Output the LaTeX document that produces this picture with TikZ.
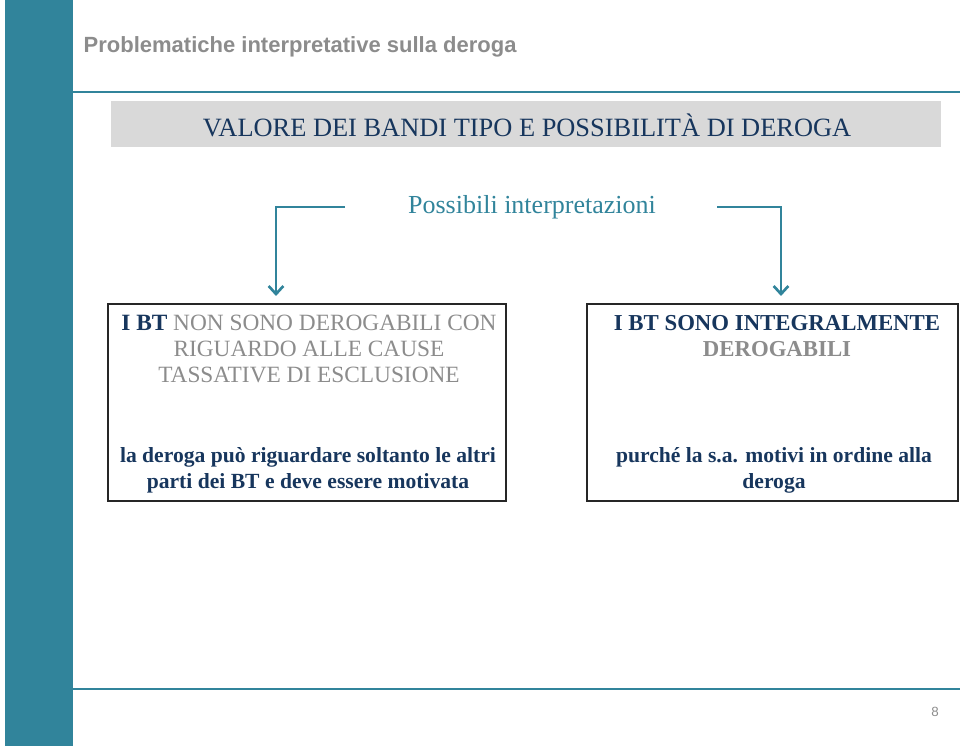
\documentclass[tikz,border=0pt]{standalone}
\usepackage{fontspec}
\setmainfont{Liberation Serif}
\newfontfamily\headfont{Liberation Sans}
\usetikzlibrary{arrows.meta}

\definecolor{tealbar}{HTML}{31849B}
\definecolor{navytext}{HTML}{17365D}
\definecolor{greytext}{HTML}{8C8C8C}
\definecolor{boxgrey}{HTML}{D9D9D9}

\tikzset{
  arrowline/.style={draw=tealbar, line width=2pt, -{Straight Barb[length=6pt,width=11pt]}},
  choicebox/.style={draw=black!85, line width=1pt, minimum width=298.5pt, minimum height=147.75pt},
  boxtext/.style={align=center, font=\fontsize{17.5}{19.5}\selectfont, inner sep=0pt},
  boldtext/.style={boxtext, text=navytext, font=\bfseries\fontsize{16.2}{19.5}\selectfont}
}

\begin{document}
\begin{tikzpicture}[x=0.75pt,y=-0.75pt]
  \useasboundingbox (0,0) rectangle (960,748);
  % side bar and rules
  \fill[tealbar] (5,0) rectangle (73,746);
  \draw[tealbar, line width=1.5pt] (73,92) -- (960,92);
  \draw[tealbar, line width=1.5pt] (73,689) -- (960,689);
  \node[anchor=west, text=greytext, font=\headfont\bfseries\fontsize{16.5}{19}\selectfont] (slidetitle) at (79,47) {Problematiche interpretative sulla deroga};
  \node[text=greytext, font=\headfont\fontsize{10}{12}\selectfont] (pagenum) at (935,712) {8};

  % banner
  \fill[boxgrey] (111,101) rectangle (941,147);
  \node[text=navytext, font=\fontsize{19.8}{22}\selectfont] (bandi) at (527,125) {VALORE DEI BANDI TIPO E POSSIBILITÀ DI DEROGA};
  \node[text=tealbar, font=\fontsize{19.5}{22}\selectfont] (interp) at (532,207) {Possibili interpretazioni};

  % the two boxes
  \node[choicebox] (leftbox) at (307,402.5) {};
  \node[choicebox, minimum width=278.25pt] (rightbox) at (772.5,402.5) {};

  % arrows
  \coordinate (lstart) at (345,207);
  \coordinate (lend) at (276,296);
  \coordinate (rstart) at (717,207);
  \coordinate (rend) at (781,296);
  \draw[arrowline] (lstart) -| (lend);
  \draw[arrowline] (rstart) -| (rend);

  % texts in the boxes
  \node[boxtext, text=greytext] (nonderog) at (309,349) {\textcolor{navytext}{\bfseries I BT} NON SONO DEROGABILI CON\\RIGUARDO ALLE CAUSE\\TASSATIVE DI ESCLUSIONE};
  \node[boldtext] (soloaltre) at (308,470) {la deroga può riguardare soltanto le altri\\parti dei BT e deve essere motivata};
  \node[boldtext, font=\bfseries\fontsize{17.1}{19.5}\selectfont] (integral) at (777,336) {I BT SONO INTEGRALMENTE\\\textcolor{greytext}{DEROGABILI}};
  \node[boldtext] (purche) at (774,470) {purché la s.a. motivi in ordine alla\\deroga};
\end{tikzpicture}
\end{document}
